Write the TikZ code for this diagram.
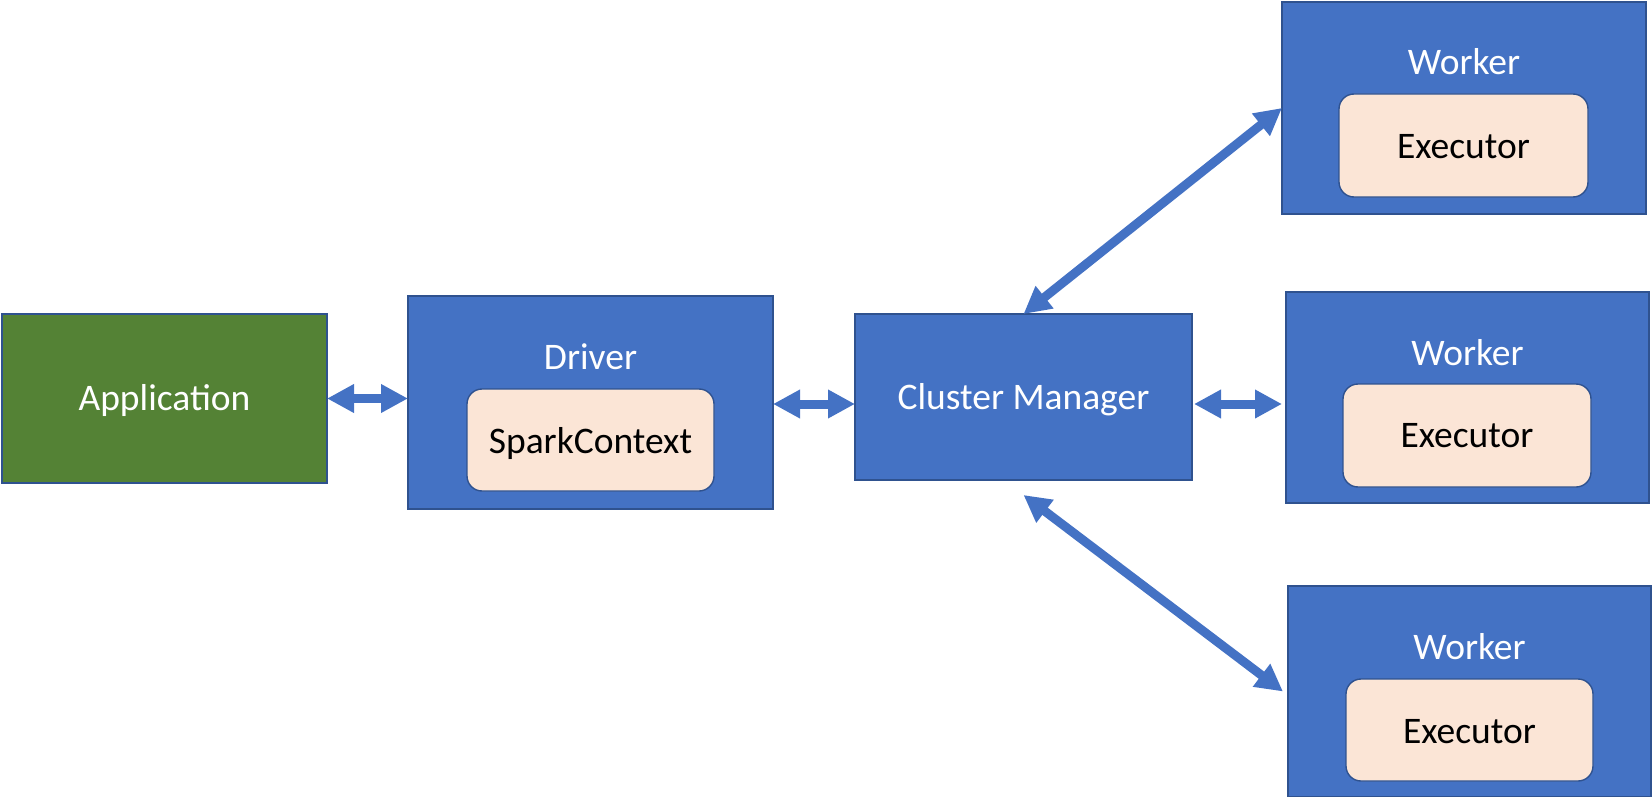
\documentclass[tikz,border=0pt]{standalone}
\usepackage{fontspec}
\setmainfont{Carlito}
\usetikzlibrary{arrows.meta}
\definecolor{boxblue}{HTML}{4472C4}
\definecolor{edgeblue}{HTML}{2F528F}
\definecolor{appgreen}{HTML}{548235}
\definecolor{execfill}{HTML}{FBE5D6}
\tikzset{
  box/.style={draw=edgeblue, line width=1.6pt, fill=boxblue, inner sep=0pt, outer sep=0pt},
  appbox/.style={box, fill=appgreen},
  inner/.style={draw=edgeblue, line width=1.4pt, fill=execfill, rounded corners=15pt, inner sep=0pt, outer sep=0pt},
  lbl/.style={anchor=base, inner sep=0pt, font=\fontsize{37.5}{45}\selectfont},
  wlbl/.style={lbl, text=white},
  blbl/.style={lbl, text=black},
  link/.style={draw=boxblue, line width=9pt,
    {Triangle[length=27pt,width=27pt]}-{Triangle[length=27pt,width=27pt]}}
}
\begin{document}
\begin{tikzpicture}[x=1pt,y=-1pt]
\useasboundingbox (0,0) rectangle (1652,797);

% Application
\node[appbox, minimum width=325pt, minimum height=169pt] (app) at (164.5,398.5) {};
\node[wlbl] (applbl) at (164.5,410) {Application};

% Driver with its SparkContext
\node[box, minimum width=365pt, minimum height=213pt] (drv) at (590.5,402.5) {};
\node[wlbl] (drvlbl) at (590.5,369) {Driver};
\node[inner, minimum width=247pt, minimum height=102pt] (sc) at (590.5,440) {};
\node[blbl] (sclbl) at (590.5,453) {SparkContext};

% Cluster manager
\node[box, minimum width=337pt, minimum height=166pt] (cm) at (1023.5,397) {};
\node[wlbl] (cmlbl) at (1023.5,409) {Cluster Manager};

% Workers, each holding one executor
\node[box, minimum width=364pt, minimum height=212pt] (w1) at (1464,108) {};
\node[wlbl] (w1lbl) at (1464,75) {Worker};
\node[inner, minimum width=249pt, minimum height=103pt] (e1) at (1463.5,145.5) {};
\node[blbl] (e1lbl) at (1463.5,158) {Executor};

\node[box, minimum width=363pt, minimum height=211pt] (w2) at (1467.5,397.5) {};
\node[wlbl] (w2lbl) at (1467.5,365) {Worker};
\node[inner, minimum width=248pt, minimum height=103pt] (e2) at (1467,435.5) {};
\node[blbl] (e2lbl) at (1467,447) {Executor};

\node[box, minimum width=363pt, minimum height=211pt] (w3) at (1469.5,691.5) {};
\node[wlbl] (w3lbl) at (1469.5,659) {Worker};
\node[inner, minimum width=247pt, minimum height=102pt] (e3) at (1469.5,730) {};
\node[blbl] (e3lbl) at (1469.5,743) {Executor};

% Two-way links
\draw[link] (app.east) -- (app.east -| drv.west);
\draw[link] ([yshift=-1.5pt]drv.east) -- ([yshift=-1.5pt]drv.east -| cm.west);
\draw[link, shorten <=2pt, shorten >=4pt] ([yshift=-7pt]cm.east) -- ([yshift=-7pt]cm.east -| w2.west);
\draw[link] (cm.north) -- (w1.west);
\draw[link] ([yshift=-15pt]cm.south) -- ([xshift=-5pt]w3.west);
\end{tikzpicture}
\end{document}
